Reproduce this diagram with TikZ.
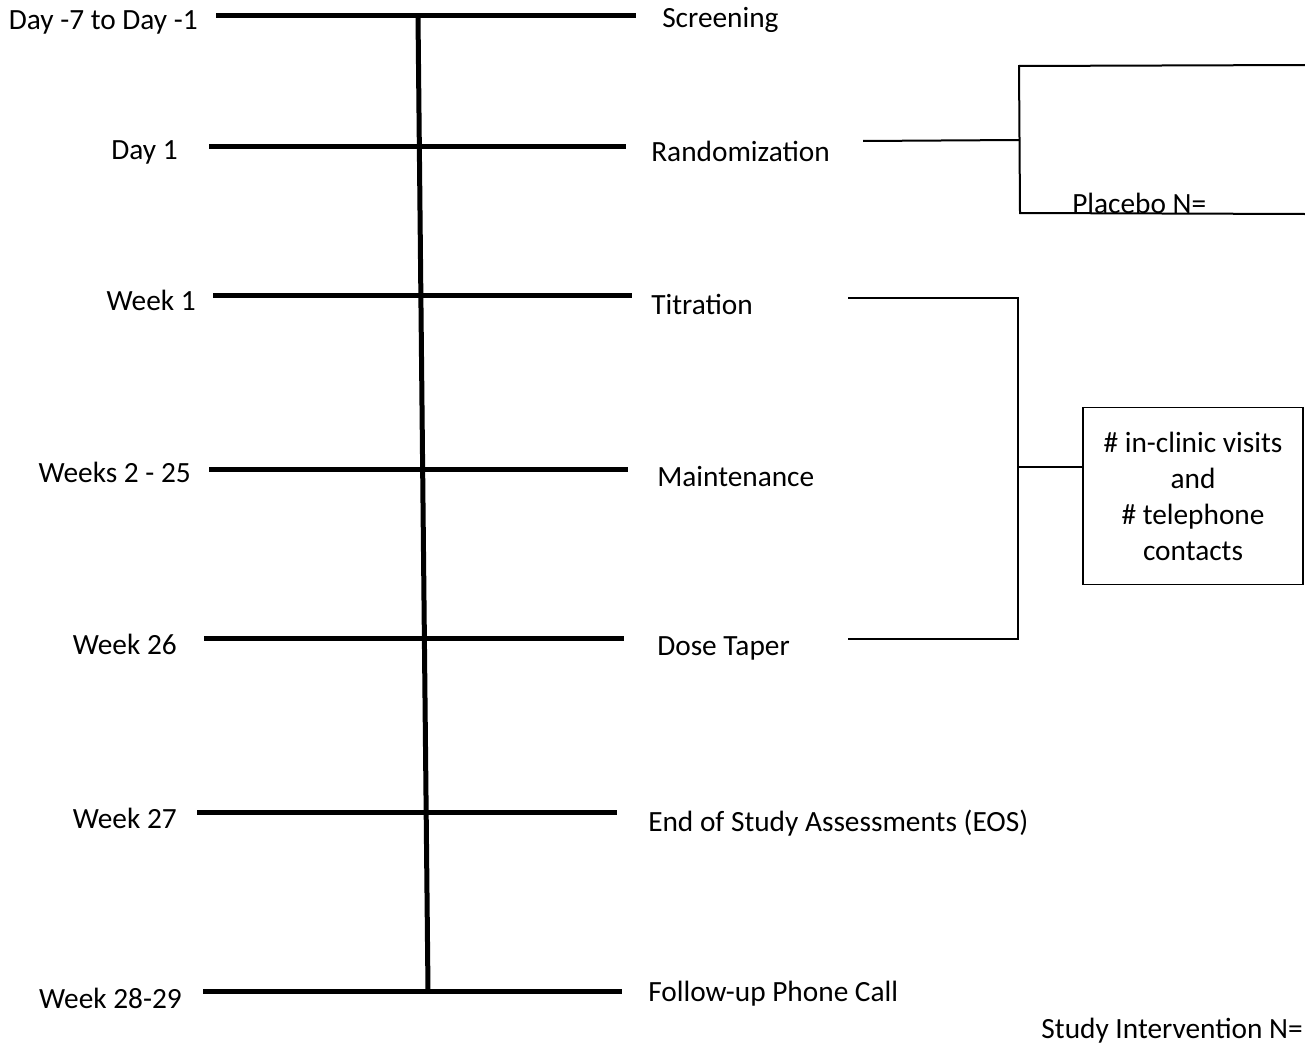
\documentclass[tikz,border=0pt]{standalone}
\usepackage{fontspec}
\setmainfont{Carlito}
\usetikzlibrary{positioning}

\begin{document}
\begin{tikzpicture}[x=0.75pt, y=-0.75pt, font=\fontsize{22}{27}\selectfont,
  rung/.style={line width=3.75pt},
  link/.style={line width=1.5pt},
  lab/.style={inner sep=0pt}]
  \useasboundingbox (0,0) rectangle (1305,1049);

  \coordinate (a1) at (216,16);  \coordinate (b1) at (636,16);
  \coordinate (a2) at (209,146); \coordinate (b2) at (626,146);
  \coordinate (a3) at (213,295); \coordinate (b3) at (632,295);
  \coordinate (a4) at (209,469); \coordinate (b4) at (628,469);
  \coordinate (a5) at (204,638); \coordinate (b5) at (624,638);
  \coordinate (a6) at (197,812); \coordinate (b6) at (617,812);
  \coordinate (a7) at (203,991); \coordinate (b7) at (622,991);
  \draw[rung] (a1) -- (b1);
  \draw[rung] (a2) -- (b2);
  \draw[rung] (a3) -- (b3);
  \draw[rung] (a4) -- (b4);
  \draw[rung] (a5) -- (b5);
  \draw[rung] (a6) -- (b6);
  \draw[rung] (a7) -- (b7);
  \coordinate (top) at (418,16);
  \coordinate (bot) at (428,991);
  \draw[rung] (top) -- (bot);

  \node (d1) [lab, anchor=east] at (198,22) {Day -7 to Day -1};
  \node (d2) [lab, anchor=east] at (178,152) {Day 1};
  \node (d3) [lab, anchor=east] at (196,300) {Week 1};
  \node (d4) [lab, anchor=east] at (191,472) {Weeks 2 - 25};
  \node (d5) [lab, anchor=east] at (177,644) {Week 26};
  \node (d6) [lab, anchor=east] at (177,818) {Week 27};
  \node (d7) [lab, anchor=east] at (182,998) {Week 28-29};

  \node (p1) [lab, anchor=west] at (662,20) {Screening};
  \node (p2) [lab, anchor=west] at (651,151) {Randomization};
  \node (p3) [lab, anchor=west] at (651,304) {Titration};
  \node (p4) [lab, anchor=west] at (657,477) {Maintenance};
  \node (p5) [lab, anchor=west] at (657,648) {Dose Taper};
  \node (p6) [lab, anchor=west] at (648,823) {End of Study Assessments (EOS)};
  \node (p7) [lab, anchor=west] at (648,994) {Follow-up Phone Call};

  \coordinate (r1) at (863,141);
  \coordinate (r2) at (1019,140);
  \coordinate (g1) at (1305,65);
  \coordinate (g2) at (1019,66);
  \coordinate (g3) at (1020,213);
  \coordinate (g4) at (1305,214);
  \draw[link] (r1) -- (r2);
  \draw[link] (g1) -- (g2) -- (g3) -- (g4);
  \node (placebo) [lab, anchor=west] at (1072,203) {Placebo N=};

  \coordinate (t1) at (848,298);
  \coordinate (t2) at (1018,298);
  \coordinate (t3) at (1018,639);
  \coordinate (t4) at (848,639);
  \coordinate (tm) at (1018,467);
  \draw[link] (t1) -- (t2) -- (t3) -- (t4);
  \node (visits) [draw, line width=1.1pt, minimum width=165pt, minimum height=133pt,
    align=center, inner sep=0pt] at (1193,496)
    {\# in-clinic visits\\and\\\# telephone\\contacts};
  \draw[link] (tm) -- (visits.west |- tm);

  \node (active) [lab, anchor=east] at (1303,1031) {Study Intervention N=};
\end{tikzpicture}
\end{document}
